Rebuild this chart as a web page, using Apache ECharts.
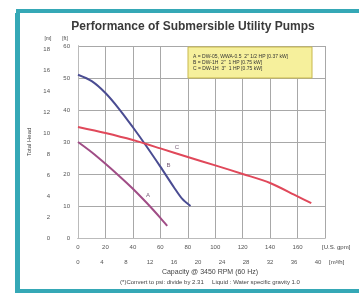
<!DOCTYPE html>
<html>
<head>
<meta charset="utf-8">
<script src="https://cdn.jsdelivr.net/npm/echarts@6/dist/echarts.min.js"></script>
<style>
	html,body{margin:0;padding:0;background:#fff;}
	#main{width:359px;height:295px;}
</style>
</head>
<body>
<div id="main"></div>
<script>
// capacity [U.S. gpm] / total head [ft]
var curveAGpm = [0, 10, 20, 30, 40, 50, 60, 65];
var curveAHead = [30, 26.8, 23.2, 19.4, 15.4, 11, 6.3, 3.8];
var curveBGpm = [0, 10, 20, 30, 40, 50, 60, 70, 76, 82];
var curveBHead = [51, 49, 45.3, 40.3, 34.6, 28.6, 22.3, 15.8, 12.2, 10];
var curveCGpm = [0, 20, 40, 60, 80, 100, 120, 140, 160, 170];
var curveCHead = [34.7, 32.8, 30.6, 28, 25.3, 22.7, 20, 17.2, 13, 10.9];
// curve tags A / B / C
var tagNames = ['A', 'B', 'C'];
var tagGpm = [51, 66, 72];
var tagHead = [13.4, 22.8, 28.2];
var legendLines = [
	'A = DW-05, WWA-0.5  2" 1/2 HP [0.37 kW]',
	'B = DW-1H  2"  1 HP [0.75 kW]',
	'C = DW-1H  3"  1 HP [0.75 kW]'
];
var FT_TO_M = 0.3048;

function pairs(xs, ys) {
	var out = [];
	for (var i = 0; i < xs.length; i++) {
		out.push([xs[i], ys[i]]);
	}
	return out;
}

var myChart = echarts.init(document.getElementById('main'));
var grey = '#9a9a9a';
var lab = { fontSize: 6, color: '#555', fontFamily: 'Liberation Sans' };

function small(text, x, y, size, align) {
	return { type: 'text', x: x, y: y, z: 20, style: { text: text, font: (size || 6) + 'px "Liberation Sans"', fill: '#444', textAlign: align || 'center', textVerticalAlign: 'middle' } };
}

var option = {
	animation: false,
	backgroundColor: '#fff',
	grid: { left: 78, top: 46, right: 34, bottom: 57 },
	xAxis: [{
		type: 'value', min: 0, max: 180, interval: 20,
		axisLine: { lineStyle: { color: grey } },
		axisTick: { show: false },
		splitLine: { lineStyle: { color: '#a8a8a8', width: 1 } },
		axisLabel: Object.assign({ margin: 6, showMaxLabel: false }, lab)
	}, {
		// m3/h scale, drawn as a second row under the gpm labels
		type: 'value', position: 'bottom', offset: 15, min: 0, max: 41.17, interval: 4,
		axisLine: { show: true, lineStyle: { color: '#bbb' } },
		axisTick: { show: false },
		splitLine: { show: false },
		axisLabel: Object.assign({ margin: 6, showMaxLabel: false }, lab)
	}],
	yAxis: [{
		type: 'value', min: 0, max: 60, interval: 10,
		axisLine: { show: true, lineStyle: { color: grey } },
		axisTick: { show: false },
		splitLine: { lineStyle: { color: '#a8a8a8', width: 1 } },
		axisLabel: Object.assign({ margin: 8 }, lab)
	}, {
		type: 'value', position: 'left', offset: 22, min: 0, max: 60 * FT_TO_M, interval: 2,
		axisLine: { show: true, lineStyle: { color: '#bbb' } },
		axisTick: { show: false },
		splitLine: { show: false },
		axisLabel: Object.assign({ margin: 6, showMaxLabel: false }, lab),
		name: 'Total Head', nameLocation: 'middle', nameGap: 20,
		nameTextStyle: { fontSize: 6, color: '#444', fontFamily: 'Liberation Sans' }
	}],
	series: [{
		name: 'A', type: 'line', smooth: 0.3, showSymbol: false,
		data: pairs(curveAGpm, curveAHead),
		lineStyle: { color: '#a04d86', width: 2 }
	}, {
		name: 'B', type: 'line', smooth: 0.3, showSymbol: false,
		data: pairs(curveBGpm, curveBHead),
		lineStyle: { color: '#4a4c92', width: 2 }
	}, {
		name: 'C', type: 'line', smooth: 0.3, showSymbol: false,
		data: pairs(curveCGpm, curveCHead),
		lineStyle: { color: '#e0485a', width: 2 }
	}, {
		// the little A / B / C tags next to the curves
		name: 'tags', type: 'scatter', symbolSize: 6, silent: true,
		itemStyle: { color: 'rgba(0,0,0,0)' },
		data: pairs(tagGpm, tagHead),
		label: {
			show: true, position: 'inside', fontSize: 6, color: '#553355', fontFamily: 'Liberation Sans',
			formatter: function(p) { return tagNames[p.dataIndex]; }
		}
	}],
	graphic: [
		// teal frame of the page
		{ type: 'rect', shape: { x: 18, y: 11, width: 360, height: 280 }, style: { fill: 'none', stroke: '#35a8b6', lineWidth: 4 }, z: 100 },
		{ type: 'rect', shape: { x: 15, y: 13, width: 3, height: 280 }, style: { fill: '#35a8b6' }, z: 100 },
		{ type: 'text', x: 193, y: 27, style: { text: 'Performance of Submersible Utility Pumps', font: 'bold 12px "Liberation Sans"', fill: '#3a3a3a', textAlign: 'center', textVerticalAlign: 'middle' } },
		small('[m]', 48, 39, 5),
		small('[ft]', 65, 39, 5),
		small('[U.S. gpm]', 322, 247, 6, 'left'),
		small('[m³/h]', 329, 262, 6, 'left'),
		{ type: 'rect', shape: { x: 188, y: 47, width: 124, height: 31 }, style: { fill: '#f6f09c', stroke: '#c8b84c', lineWidth: 1 }, z: 10 },
		{ type: 'text', x: 193, y: 57, z: 11, style: { text: legendLines[0], font: '5px "Liberation Sans"', fill: '#333', textVerticalAlign: 'middle' } },
		{ type: 'text', x: 193, y: 63, z: 11, style: { text: legendLines[1], font: '5px "Liberation Sans"', fill: '#333', textVerticalAlign: 'middle' } },
		{ type: 'text', x: 193, y: 69, z: 11, style: { text: legendLines[2], font: '5px "Liberation Sans"', fill: '#333', textVerticalAlign: 'middle' } },
		small('Capacity @ 3450 RPM (60 Hz)', 210, 272, 7),
		small('(*)Convert to psi: divide by 2.31     Liquid : Water specific gravity 1.0', 210, 282, 6)
	]
};
myChart.setOption(option);
</script>
</body>
</html>
